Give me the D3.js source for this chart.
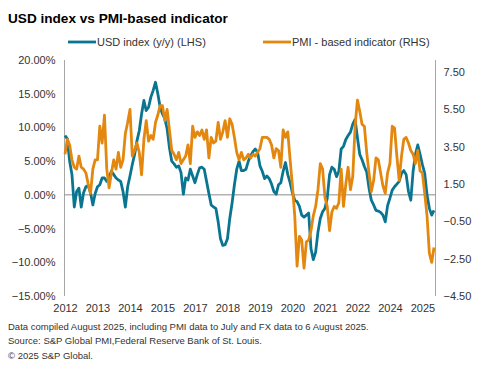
<!DOCTYPE html>
<html lang="en">
<head>
<meta charset="UTF-8">
<title>USD index vs PMI-based indicator</title>
<script src="https://d3js.org/d3.v7.min.js"></script>
<style>
  body { margin: 0; background: #fff; }
  svg { font-family: "Liberation Sans", Arial, sans-serif; }
  .title { font-size: 13.6px; font-weight: bold; fill: #000; }
  .legend text { font-size: 11px; fill: #333; }
  .axis text { font-size: 11px; fill: #333; }
  .axis path, .axis line { stroke: #a6a6a6; }
  .note { font-size: 9.5px; fill: #333; }
</style>
</head>
<body>
<script>
// monthly, May 2012 .. Aug 2025
const firstMonth = new Date(2012, 4, 1);
const endMonth = new Date(2025, 8, 1);

// USD index y/y, % (left axis)
const usd = [
  8.8, 8.3, 5.0, 3.0, -1.8, 0.5, 1.0, -1.8, 0.3, 1.2,
  1.4, 0.3, -1.5, 0.2, 1.2, 1.5, 2.5, 2.5, 2.0, 2.6,
  3.5, 3.0, 2.5, 2.2, 2.0, 0.5, -1.8, 1.2, 2.8, 4.5,
  6.0, 8.0, 9.5, 12.0, 14.0, 12.5, 13.0, 14.5, 15.5, 16.7,
  15.0, 13.0, 12.0, 11.3, 9.8, 7.0, 5.0, 4.6, 4.1, 4.3,
  3.3, 0.1, 2.5, 2.2, 3.8, 2.8, 1.8, 3.0, 4.0, 4.1,
  3.8, 2.0, 0.2, -1.5, -1.8, -2.0, -4.0, -6.5, -7.5, -7.4,
  -6.5, -3.5, -1.2, 1.5, 3.8, 5.0, 3.6, 3.6, 3.8, 5.0,
  5.8, 6.4, 6.8, 6.3, 4.3, 3.5, 2.4, 2.8, 2.4, 1.6,
  0.5, 0.1, 1.5, 1.8, 3.5, 4.8, 3.0, 1.8, 0.3, -0.8,
  -1.0, -1.7, -3.0, -3.3, -3.0, -2.7, -8.0, -9.6, -8.5, -5.5,
  -3.5, -2.5, -2.0, -0.5, 3.0, 4.1, 3.8, 2.7, 3.5, 6.8,
  7.2, 8.2, 8.8, 9.3, 10.5, 11.2, 8.5, 6.0, 5.2, 4.2,
  3.4, 1.0, -0.8, -1.5, -2.3, -2.4, -2.6, -3.0, -4.0, -1.6,
  -0.5, 0.7, 1.2, 1.6, 2.0, 3.2, 3.6, 3.0, 0.5, -0.8,
  3.5, 6.0, 7.4, 6.0, 4.5, 3.2, 0.0, -2.0, -3.0, -2.3
];

// PMI-based indicator (right axis)
const pmi = [
  3.1, 3.9, 3.6, 2.8, 2.4, 2.3, 3.0, 2.4, 2.3, 2.1,
  1.5, 1.0, 2.3, 2.8, 2.8, 4.6, 3.7, 5.2, 2.3, 1.3,
  2.1, 2.8, 2.3, 3.2, 2.4, 2.8, 4.2, 4.8, 5.5, 3.0,
  3.3, 3.7, 3.2, 2.0, 3.9, 4.9, 3.8, 4.1, 3.9, 4.8,
  5.2, 5.7, 5.7, 4.9, 5.5, 4.4, 3.3, 3.1, 2.8, 3.2,
  2.6, 2.8, 3.0, 3.6, 2.6, 4.6, 4.0, 4.3, 4.1, 4.4,
  3.9, 4.4, 2.9, 4.0, 3.7, 3.8, 4.8, 3.9, 4.3, 4.9,
  4.0, 5.0, 4.7, 4.0, 3.2, 2.8, 3.2, 2.8, 2.9, 3.1,
  2.9, 3.1, 3.0, 3.2, 3.4, 4.0, 4.0, 4.0, 3.9, 3.6,
  2.9, 3.4, 3.3, 2.4, 4.4, 4.0, 4.3, 2.8, 1.4, -0.2,
  -2.9, -1.3, -1.5, -3.0, -1.6, -1.5, -1.0, -0.2, 0.3, 1.2,
  2.6, 2.3, 0.8, 0.3, -1.0, 0.0, 0.3, 0.2, 0.5, 2.3,
  0.3, 1.5, 2.4, 1.2, 1.9, 4.6, 6.0, 5.4, 4.7, 4.6,
  3.2, 2.1, 1.1, 1.7, 2.9, 2.8, 2.1, 1.4, 1.0, 2.1,
  2.6, 4.6, 4.5, 3.0, 1.7, 3.0, 3.9, 4.0, 3.7, 3.3,
  3.1, 2.6, 3.3, 2.2, 2.1, 1.0, -0.2, -2.2, -2.7, -1.9
];

// months where Excel put a category label
const tickMonths = ["2012-05", "2013-07", "2014-09", "2015-11", "2017-01", "2018-03",
  "2019-05", "2020-07", "2021-09", "2022-11", "2024-01", "2025-03"];
const leftTicks = [-15, -10, -5, 0, 5, 10, 15, 20];
const rightTicks = [-4.5, -2.5, -0.5, 1.5, 3.5, 5.5, 7.5];

const seriesNames = ["USD index (y/y) (LHS)", "PMI - based indicator (RHS)"];
const colors = ["#0a7590", "#e3870f"];

const W = 486, H = 375;
const plot = { left: 64.5, right: 435.5, top: 60, bottom: 296 };

const fmtMonth = d3.timeFormat("%Y-%m");
const months = d3.timeMonth.range(firstMonth, endMonth).map(fmtMonth);

const svg = d3.select("body").append("svg")
  .attr("width", W)
  .attr("height", H);

const x = d3.scalePoint()
  .domain(months)
  .range([65, 434]);

const yL = d3.scaleLinear().domain([-15, 20]).range([plot.bottom, plot.top]);
const yR = d3.scaleLinear().domain([-4.5, 8.15]).range([plot.bottom, plot.top]);

// title
svg.append("text")
  .attr("class", "title")
  .attr("x", 8)
  .attr("y", 22.5)
  .text("USD index vs PMI-based indicator");

// left axis
svg.append("g")
  .attr("class", "axis axis-left")
  .attr("transform", `translate(${plot.left},0)`)
  .call(d3.axisLeft(yL).tickValues(leftTicks).tickSize(0).tickPadding(9)
    .tickFormat(d => d3.format(".2f")(d) + "%"))
  .call(g => g.select(".domain").attr("d", `M0,${plot.top}V${plot.bottom}`));

// right axis
svg.append("g")
  .attr("class", "axis axis-right")
  .attr("transform", `translate(${plot.right},0)`)
  .call(d3.axisRight(yR).tickValues(rightTicks).tickSize(0).tickPadding(8)
    .tickFormat(d3.format(".2f")))
  .call(g => g.select(".domain").attr("d", `M0,${plot.top}V${plot.bottom}`));

// category axis sits on zero
svg.append("line")
  .attr("x1", plot.left).attr("x2", plot.right)
  .attr("y1", yL(0)).attr("y2", yL(0))
  .attr("stroke", "#8c8c8c")
  .attr("stroke-width", 1);

svg.append("g")
  .attr("class", "axis axis-x")
  .attr("transform", `translate(0,${plot.bottom})`)
  .call(d3.axisBottom(x).tickValues(tickMonths).tickSize(0).tickPadding(8)
    .tickFormat(m => m.slice(0, 4)))
  .call(g => g.select(".domain").remove());

// lines
const lineL = d3.line().x((d, i) => x(months[i])).y(d => yL(d));
const lineR = d3.line().x((d, i) => x(months[i])).y(d => yR(d));

svg.append("path")
  .datum(usd)
  .attr("fill", "none")
  .attr("stroke", colors[0])
  .attr("stroke-width", 2.8)
  .attr("stroke-linejoin", "round")
  .attr("d", lineL);

svg.append("path")
  .datum(pmi)
  .attr("fill", "none")
  .attr("stroke", colors[1])
  .attr("stroke-width", 2.8)
  .attr("stroke-linejoin", "round")
  .attr("d", lineR);

// legend
const legend = svg.append("g").attr("class", "legend");
const legendX = [68, 263];
seriesNames.forEach((name, i) => {
  legend.append("line")
    .attr("x1", legendX[i]).attr("x2", legendX[i] + 28)
    .attr("y1", 42).attr("y2", 42)
    .attr("stroke", colors[i])
    .attr("stroke-width", 2.8);
  legend.append("text")
    .attr("x", legendX[i] + 29)
    .attr("y", 46)
    .text(name);
});

// notes
const notes = [
  "Data compiled August 2025, including PMI data to July and FX data to 6 August 2025.",
  "Source: S&P Global PMI,Federal Reserve Bank of St. Louis.",
  "\u00a9 2025 S&P Global."
];
notes.forEach((t, i) => {
  svg.append("text")
    .attr("class", "note")
    .attr("x", 8)
    .attr("y", 329.5 + i * 14.5)
    .text(t);
});
</script>
</body>
</html>
